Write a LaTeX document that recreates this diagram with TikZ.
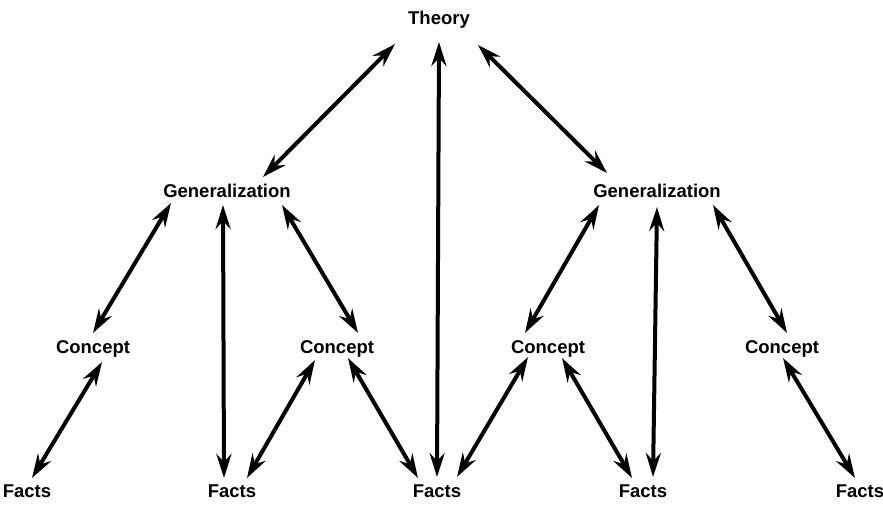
\documentclass[tikz,border=0pt]{standalone}
\usepackage{fontspec}
\setmainfont{Liberation Sans}
\usetikzlibrary{arrows.meta}

\begin{document}
\begin{tikzpicture}[
    x=1pt, y=-1pt,
    term/.style={anchor=base, inner sep=0pt, font=\bfseries\fontsize{18.5}{22}\selectfont},
    link/.style={line width=4pt, {Stealth[length=24pt, width=15pt, inset=8pt]}-{Stealth[length=24pt, width=15pt, inset=8pt]}}
]
    \useasboundingbox (0,0) rectangle (883,506);

    \node[term] (theory) at (439,24) {Theory};

    \node[term] (genl) at (227,197) {Generalization};
    \node[term] (genr) at (657,197) {Generalization};

    \node[term] (c1) at (93,353) {Concept};
    \node[term] (c2) at (337,353) {Concept};
    \node[term] (c3) at (548,353) {Concept};
    \node[term] (c4) at (782,353) {Concept};

    \node[term] (f1) at (27,497) {Facts};
    \node[term] (f2) at (232,497) {Facts};
    \node[term] (f3) at (437,497) {Facts};
    \node[term] (f4) at (643,497) {Facts};
    \node[term] (f5) at (860,497) {Facts};

    % theory level
    \draw[link] ([shift={(-44,20)}]theory.base) -- ([shift={(36,-20)}]genl.base);
    \draw[link] ([shift={(39,21)}]theory.base) -- ([shift={(-50,-24)}]genr.base);
    \draw[link] ([shift={(0,18)}]theory.base) -- ([shift={(0,-20)}]f3.base);

    % generalization level
    \draw[link] ([shift={(-56,6)}]genl.base) -- ([shift={(0,-20)}]c1.base);
    \draw[link] ([shift={(-4,8)}]genl.base) -- ([shift={(-8,-19)}]f2.base);
    \draw[link] ([shift={(55,8)}]genl.base) -- ([shift={(21,-20)}]c2.base);
    \draw[link] ([shift={(-58,8)}]genr.base) -- ([shift={(-23,-20)}]c3.base);
    \draw[link] ([shift={(0,10)}]genr.base) -- ([shift={(10,-20)}]f4.base);
    \draw[link] ([shift={(56,8)}]genr.base) -- ([shift={(5,-20)}]c4.base);

    % concept level
    \draw[link] ([shift={(9,9)}]c1.base) -- ([shift={(5,-19)}]f1.base);
    \draw[link] ([shift={(-22,7)}]c2.base) -- ([shift={(15,-19)}]f2.base);
    \draw[link] ([shift={(11,5)}]c2.base) -- ([shift={(-19,-19)}]f3.base);
    \draw[link] ([shift={(-20,4)}]c3.base) -- ([shift={(20,-20)}]f3.base);
    \draw[link] ([shift={(14,5)}]c3.base) -- ([shift={(-11,-19)}]f4.base);
    \draw[link] ([shift={(1,5)}]c4.base) -- ([shift={(-5,-19)}]f5.base);
\end{tikzpicture}
\end{document}
